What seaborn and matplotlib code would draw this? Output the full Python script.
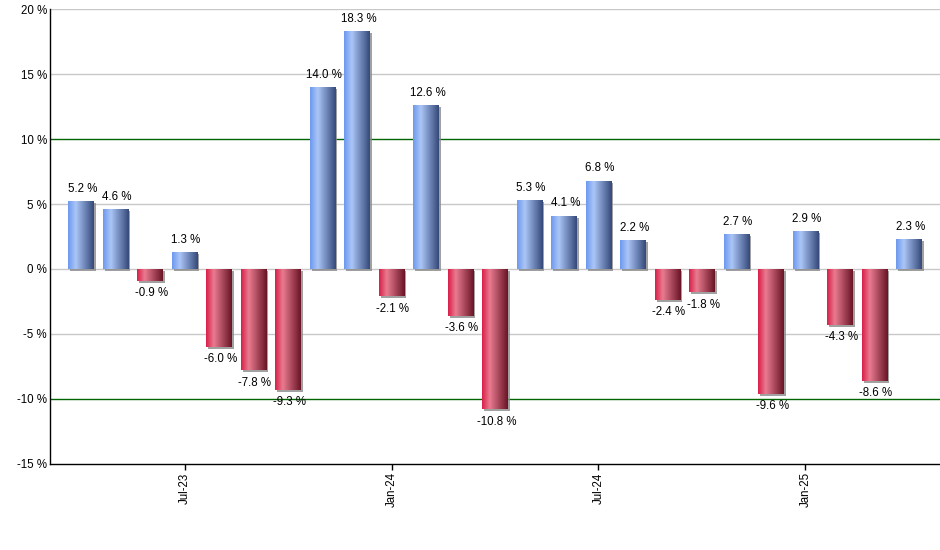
import matplotlib
matplotlib.use("Agg")
import matplotlib.pyplot as plt
import matplotlib.patheffects as pe
from matplotlib.colors import LinearSegmentedColormap
from matplotlib.ticker import FuncFormatter
import seaborn as sns
import numpy as np
import pandas as pd

# monthly returns, Apr-23 .. Apr-25
months = ['Apr-23', 'May-23', 'Jun-23', 'Jul-23', 'Aug-23', 'Sep-23', 'Oct-23',
          'Nov-23', 'Dec-23', 'Jan-24', 'Feb-24', 'Mar-24', 'Apr-24', 'May-24',
          'Jun-24', 'Jul-24', 'Aug-24', 'Sep-24', 'Oct-24', 'Nov-24', 'Dec-24',
          'Jan-25', 'Feb-25', 'Mar-25', 'Apr-25']
returns = [5.2, 4.6, -0.9, 1.3, -6.0, -7.8, -9.3, 14.0, 18.3, -2.1, 12.6, -3.6,
           -10.8, 5.3, 4.1, 6.8, 2.2, -2.4, -1.8, 2.7, -9.6, 2.9, -4.3, -8.6, 2.3]
shown_months = ['Jul-23', 'Jan-24', 'Jul-24', 'Jan-25']
y_ticks = [-15, -10, -5, 0, 5, 10, 15, 20]

df = pd.DataFrame({'month': months, 'ret': returns})

sns.set_style('white')
plt.rcParams['font.family'] = ['Liberation Sans', 'DejaVu Sans']
plt.rcParams['text.color'] = 'black'
plt.rcParams['xtick.color'] = 'black'
plt.rcParams['ytick.color'] = 'black'

blue_cmap = LinearSegmentedColormap.from_list(
    'blue_bar', [(0.0, '#6c98ee'), (0.3, '#abc6f7'), (1.0, '#34497a')])
red_cmap = LinearSegmentedColormap.from_list(
    'red_bar', [(0.0, '#d81e48'), (0.3, '#e97b90'), (1.0, '#681425')])

fig = plt.figure(figsize=(9.4, 5.5), dpi=100)
ax = fig.add_axes([0.0527, 0.1564, 0.9473, 0.8272])

sns.barplot(data=df, x='month', y='ret', color='#7fa6ee', width=0.74,
            saturation=1, linewidth=0, ax=ax, zorder=3)

# gridlines, green ones at +/-10
for v in y_ticks[1:]:
    col = '#006400' if abs(v) == 10 else '#c8c8c8'
    ax.axhline(v, color=col, lw=1, zorder=1)

# gradient fill + small drop shadow on every bar
grad = np.linspace(0, 1, 256).reshape(1, -1)
for patch, val in zip(ax.patches, df['ret']):
    patch.set_edgecolor('none')
    patch.set_path_effects([
        pe.SimplePatchShadow(offset=(1.5, -1.5), shadow_rgbFace='#8a8a8a', alpha=0.8),
        pe.Normal()])
    x0, y0 = patch.get_x(), patch.get_y()
    w, h = patch.get_width(), patch.get_height()
    cmap = blue_cmap if val >= 0 else red_cmap
    img = ax.imshow(grad, cmap=cmap, aspect='auto', zorder=4,
                    extent=[x0, x0 + w, min(y0, y0 + h), max(y0, y0 + h)])
    img.set_clip_path(patch)
    if val >= 0:
        ax.annotate(f'{val:.1f} %', (x0 + w / 2, val), xytext=(1, 4.5),
                    textcoords='offset points', ha='center', va='bottom',
                    fontsize=8.3, zorder=5)
    else:
        ax.annotate(f'{val:.1f} %', (x0 + w / 2, val), xytext=(1, -4.5),
                    textcoords='offset points', ha='center', va='top',
                    fontsize=8.3, zorder=5)

ax.set_xlim(-0.913, len(months) - 0.1)
ax.set_ylim(-15, 20)
ax.set_yticks(y_ticks)
ax.yaxis.set_major_formatter(FuncFormatter(lambda v, p: f'{int(v)} %'))

tick_pos = [months.index(m) for m in shown_months]
ax.set_xticks(tick_pos)
ax.set_xticklabels(shown_months, rotation=90)
ax.set_xlabel('')
ax.set_ylabel('')

ax.tick_params(axis='y', length=0, pad=2, labelsize=8.3)
ax.tick_params(axis='x', length=4, width=1, pad=2, labelsize=8.3, direction='out')
ax.xaxis.set_ticks_position('bottom')

for side in ['top', 'right']:
    ax.spines[side].set_visible(False)
for side in ['left', 'bottom']:
    ax.spines[side].set_color('black')
    ax.spines[side].set_linewidth(1)
    ax.spines[side].set_zorder(6)

fig.savefig('out.png', dpi=100)
